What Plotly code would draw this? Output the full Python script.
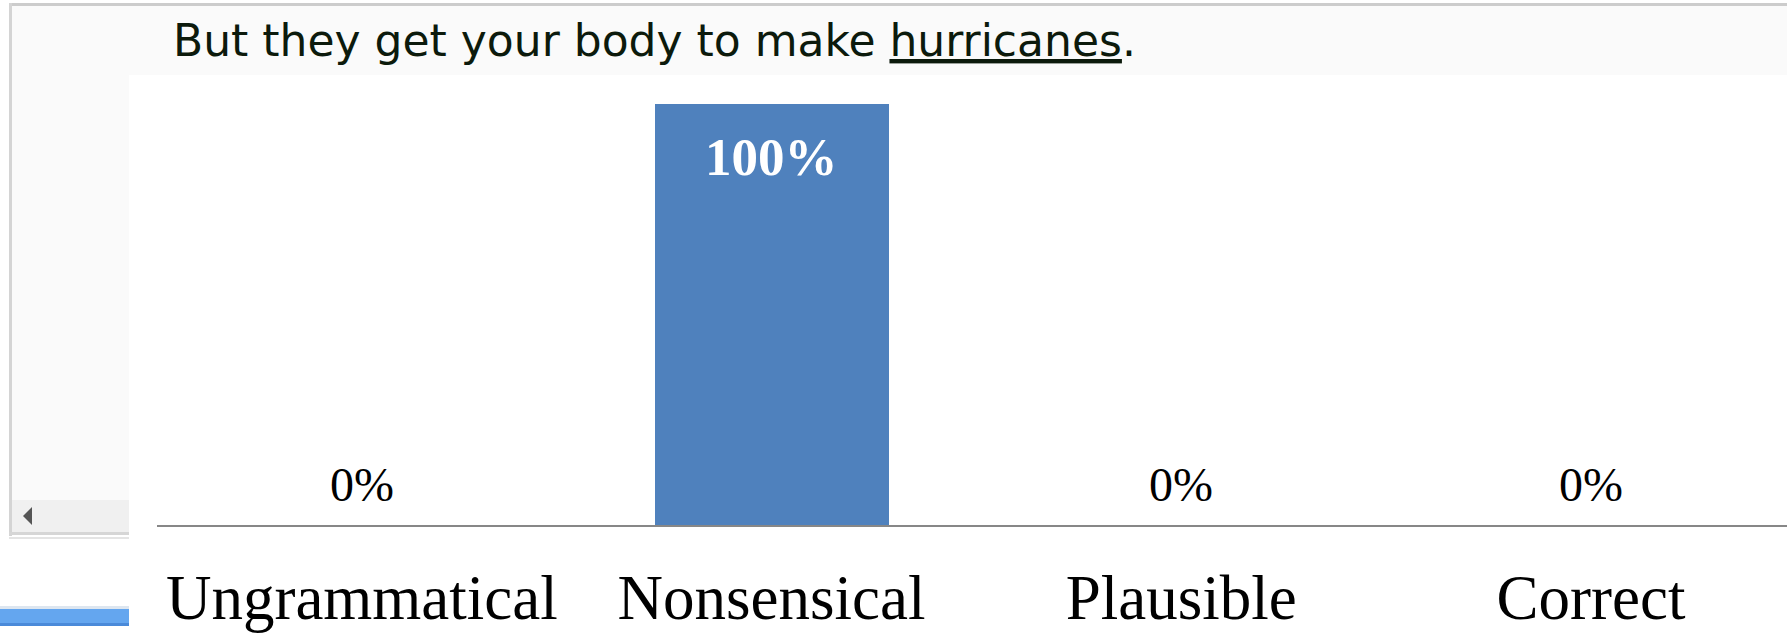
import plotly.graph_objects as go

# ---- data ----
categories = ["Ungrammatical", "Nonsensical", "Plausible", "Correct"]
values = [0, 100, 0, 0]
value_labels = ["0%", "100%", "0%", "0%"]
sentence_pre = "But they get your body to make "
sentence_word = "hurricanes"
sentence_post = "."

W, H = 1787, 634
def px(x):
    return x / W
def py(y):
    return 1 - y / H

BAR_COLOR = "#4f81bd"

fig = go.Figure()
fig.add_trace(go.Bar(
    x=categories, y=values, marker=dict(color=BAR_COLOR, line=dict(width=0)),
    width=0.571, hoverinfo="skip", showlegend=False,
))

# value labels
annotations = []
for c, v, lab in zip(categories, values, value_labels):
    if v > 50:
        annotations.append(dict(
            x=c, y=v, xref="x", yref="y", text="<b>" + lab + "</b>", showarrow=False,
            yanchor="top", yshift=-22,
            font=dict(family="Liberation Serif", size=53, color="white")))
    else:
        annotations.append(dict(
            x=c, y=v, xref="x", yref="y", text=lab, showarrow=False,
            yanchor="bottom", yshift=12,
            font=dict(family="Liberation Serif", size=48, color="black")))

# sentence heading (browser screenshot part)
annotations.append(dict(
    x=px(171), y=py(53), xref="paper", yref="paper", xanchor="left", yanchor="bottom",
    yshift=-15, showarrow=False,
    text=sentence_pre + "<u>" + sentence_word + "</u>" + sentence_post,
    font=dict(family="DejaVu Sans", size=44, color="#0c1a0c")))

shapes = [
    # top light gray band
    dict(type="rect", xref="paper", yref="paper", x0=px(10), x1=1, y0=py(75), y1=py(5),
         fillcolor="#fafafa", line=dict(width=0), layer="below"),
    # top border
    dict(type="rect", xref="paper", yref="paper", x0=px(10), x1=1, y0=py(6), y1=py(3),
         fillcolor="#cccccc", line=dict(width=0), layer="below"),
    # left panel
    dict(type="rect", xref="paper", yref="paper", x0=px(10), x1=px(129), y0=py(533), y1=py(75),
         fillcolor="#fafafa", line=dict(width=0), layer="below"),
    # scrollbar
    dict(type="rect", xref="paper", yref="paper", x0=px(12), x1=px(129), y0=py(533), y1=py(500),
         fillcolor="#f0f0f0", line=dict(width=0), layer="below"),
    # left border
    dict(type="rect", xref="paper", yref="paper", x0=px(9), x1=px(12), y0=py(536), y1=py(3),
         fillcolor="#d4d4d4", line=dict(width=0), layer="below"),
    # bottom border lines
    dict(type="rect", xref="paper", yref="paper", x0=px(9), x1=px(129), y0=py(535), y1=py(532),
         fillcolor="#d6d6d6", line=dict(width=0), layer="below"),
    dict(type="rect", xref="paper", yref="paper", x0=px(9), x1=px(129), y0=py(539), y1=py(537),
         fillcolor="#e4e4e4", line=dict(width=0), layer="below"),
    # scroll arrow
    dict(type="path", xref="paper", yref="paper",
         path=f"M {px(23)},{py(516)} L {px(32)},{py(507)} L {px(32)},{py(525)} Z",
         fillcolor="#555555", line=dict(width=0), layer="below"),
    # blue taskbar strip
    dict(type="rect", xref="paper", yref="paper", x0=0, x1=px(129), y0=py(609), y1=py(606),
         fillcolor="#dde6f0", line=dict(width=0), layer="below"),
    dict(type="rect", xref="paper", yref="paper", x0=0, x1=px(129), y0=py(623), y1=py(609),
         fillcolor="#64a6ef", line=dict(width=0), layer="below"),
    dict(type="rect", xref="paper", yref="paper", x0=0, x1=px(129), y0=py(626), y1=py(623),
         fillcolor="#4a8ad9", line=dict(width=0), layer="below"),
]

axis_left = 157
cat_width = 409.7
x_hi = -0.5 + (W - axis_left) / cat_width
y_bottom, y_top, bar_top = 525, 75, 104
y_hi = max(values) * (y_bottom - y_top) / (y_bottom - bar_top)

fig.update_layout(
    width=W, height=H,
    margin=dict(l=0, r=0, t=0, b=0, pad=0, autoexpand=False),
    paper_bgcolor="white", plot_bgcolor="rgba(0,0,0,0)",
    bargap=0,
    xaxis=dict(domain=[px(axis_left), 1], range=[-0.5, x_hi], type="category",
               showgrid=False, zeroline=False, ticks="", showline=True,
               linecolor="#878787", linewidth=2,
               tickfont=dict(family="Liberation Serif", size=63, color="black"),
               ticklabelstandoff=16, fixedrange=True),
    yaxis=dict(domain=[py(y_bottom), py(y_top)], range=[0, y_hi], visible=False,
               showgrid=False, zeroline=False, fixedrange=True),
    annotations=annotations,
    shapes=shapes,
)

fig.write_html("out.html", config={"displayModeBar": False})
